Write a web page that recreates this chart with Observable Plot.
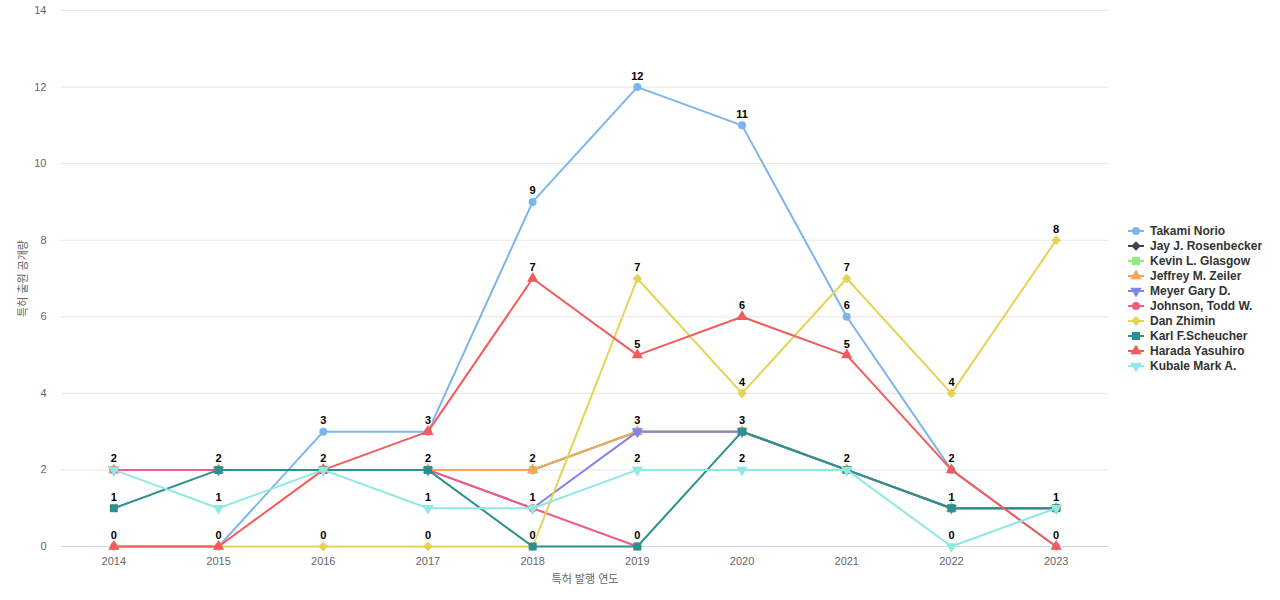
<!DOCTYPE html>
<html>
<head>
<meta charset="utf-8">
<script src="https://cdn.jsdelivr.net/npm/d3@7"></script>
<script src="https://cdn.jsdelivr.net/npm/@observablehq/plot@0.6"></script>
<style>
  html, body { margin: 0; padding: 0; background: #fff; }
  #wrap { position: relative; width: 1280px; height: 600px; font-family: "Liberation Sans", Arial, "Noto Sans CJK KR", sans-serif; }
  #legend { position: absolute; left: 1128px; top: 223px; }
  .item { display: flex; align-items: center; height: 15px; font-size: 12px; font-weight: bold; color: #333; white-space: nowrap; }
  .item svg { margin-right: 5px; }
</style>
</head>
<body>
<div id="wrap"><div id="chart"></div><div id="legend"></div></div>
<script>
const years = ["2014","2015","2016","2017","2018","2019","2020","2021","2022","2023"];
const seriesNames = ["Takami Norio","Jay J. Rosenbecker","Kevin L. Glasgow","Jeffrey M. Zeiler","Meyer Gary D.","Johnson, Todd W.","Dan Zhimin","Karl F.Scheucher","Harada Yasuhiro","Kubale Mark A."];
const takami  = [0,0,3,3,9,12,11,6,2,0];
const jay     = [2,2,2,2,2,3,3,2,1,1];
const kevin   = [2,2,2,2,2,3,3,2,1,1];
const jeffrey = [2,2,2,2,2,3,3,2,1,1];
const meyer   = [2,2,2,2,1,3,3,2,1,1];
const johnson = [2,2,2,2,1,0,null,null,null,null];
const dan     = [0,0,0,0,0,7,4,7,4,8];
const karl    = [1,2,2,2,0,0,3,2,1,1];
const harada  = [0,0,2,3,7,5,6,5,2,0];
const kubale  = [2,1,2,1,1,2,2,2,0,1];
const seriesValues = [takami, jay, kevin, jeffrey, meyer, johnson, dan, karl, harada, kubale];
const colors = ["#7cb5ec","#434348","#90ed7d","#f7a35c","#8085e9","#f15c80","#e4d354","#2b908f","#f45b5b","#91e8e1"];
const yTicks = [0,2,4,6,8,10,12,14];

const sqrt3 = Math.sqrt(3);
const triangleDown = {draw(ctx, size) {
  const y = -Math.sqrt(size / (sqrt3 * 3));
  ctx.moveTo(0, -y * 2);
  ctx.lineTo(-sqrt3 * y, y);
  ctx.lineTo(sqrt3 * y, y);
  ctx.closePath();
}};
const symbolCycle = [d3.symbolCircle, d3.symbolDiamond2, d3.symbolSquare, d3.symbolTriangle, triangleDown];
const symbolFor = i => symbolCycle[i % 5];
const sizeFor = i => [50, 60, 64, 56, 56][i % 5];

const series = seriesNames.map((name, i) => ({
  name, color: colors[i], symbol: symbolFor(i),
  data: years.map((year, j) => ({year, value: seriesValues[i][j], name})).filter(d => d.value != null)
}));

const marks = [
  Plot.gridY(yTicks, {stroke: "#e6e6e6", strokeOpacity: 1}),
  Plot.ruleY([0], {stroke: "#ccd6eb", strokeWidth: 1}),
  Plot.axisY(yTicks, {tickSize: 0, tickPadding: 15, fontSize: 11, fill: "#666", label: "특허 출원 공개량", labelAnchor: "center", labelArrow: "none", labelOffset: 42}),
  Plot.axisX({tickSize: 0, tickPadding: 11, fontSize: 11, fill: "#666", label: "특허 발행 연도", labelAnchor: "center", labelArrow: "none", labelOffset: 36})
];
series.forEach((s, i) => {
  marks.push(Plot.line(s.data, {x: "year", y: "value", stroke: s.color, strokeWidth: 2}));
  marks.push(Plot.dot(s.data, {x: "year", y: "value", fill: s.color, symbol: s.symbol, r: Math.sqrt(sizeFor(i) / Math.PI), stroke: "none"}));
});
series.forEach(s => {
  marks.push(Plot.text(s.data, {x: "year", y: "value", text: d => String(d.value), dy: -11, fontSize: 11, fontWeight: "bold", fill: "#000", stroke: "#fff", strokeWidth: 2}));
});

const chart = Plot.plot({
  width: 1280,
  height: 600,
  marginLeft: 61,
  marginRight: 172,
  marginTop: 10,
  marginBottom: 54,
  style: {fontFamily: '"Liberation Sans", Arial, "Noto Sans CJK KR", sans-serif', fontSize: "12px", color: "#666", background: "#fff"},
  x: {type: "point", domain: years, padding: 0.5, round: false},
  y: {domain: [0, 14]},
  marks
});
document.getElementById("chart").appendChild(chart);

const legend = d3.select("#legend");
series.forEach((s, i) => {
  const item = legend.append("div").attr("class", "item");
  const svg = item.append("svg").attr("width", 17).attr("height", 12);
  svg.append("line").attr("x1", 0).attr("x2", 16).attr("y1", 6).attr("y2", 6).attr("stroke", s.color).attr("stroke-width", 2);
  svg.append("path").attr("transform", "translate(8,6)").attr("d", d3.symbol(s.symbol, sizeFor(i))()).attr("fill", s.color);
  item.append("span").text(s.name);
});
</script>
</body>
</html>
